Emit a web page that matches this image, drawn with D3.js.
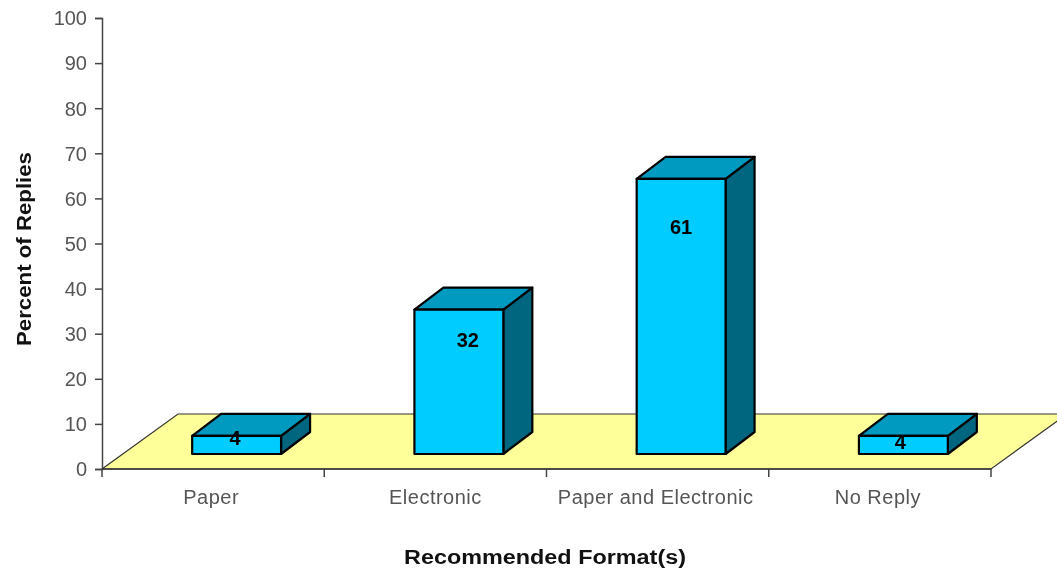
<!DOCTYPE html>
<html><head><meta charset="utf-8">
<script src="https://cdn.jsdelivr.net/npm/d3@7"></script>
<style>
html,body{margin:0;padding:0;background:#fff;overflow:hidden}
svg{display:block;filter:blur(0.45px)}
text{font-family:"Liberation Sans",Arial,sans-serif}
</style></head><body><svg id="c" width="1057" height="572"></svg>
<script>
const categories = ["Paper","Electronic","Paper and Electronic","No Reply"];
const values = [4,32,61,4];
const yTicks = [0,10,20,30,40,50,60,70,80,90,100];
const yTitle = "Percent of Replies";
const xTitle = "Recommended Format(s)";

const svg = d3.select("#c");
const y = d3.scaleLinear().domain([0,100]).range([469,18]);
const x = d3.scaleBand().domain(categories).range([102,991]).paddingInner(0.6).paddingOuter(0.3);
const floorDx=76, floorDy=-55, barDx=29, barDy=-22, barLift=15, barShift=23.5;
const labelOffset=[[-1.5,3.5],[9,32],[0,50],[-3,8]];
const catNudge=[-2,0,-2,-2];
const axisCol="#444", textCol="#555";
const fontFam='"Liberation Sans",Arial,sans-serif';

// floor
svg.append("path").attr("d",`M102,469 L${102+floorDx},${469+floorDy} L${991+floorDx},${469+floorDy} L991,469 Z`)
  .attr("fill","#ffff99").attr("stroke","#333").attr("stroke-width",1.2);

// y axis
const gy = svg.append("g").attr("transform","translate(102,0)")
  .call(d3.axisLeft(y).tickValues(yTicks).tickSize(7).tickPadding(8));
gy.selectAll("text").attr("font-size",20).attr("fill",textCol).attr("dy","0.34em").style("font-family",fontFam);
gy.selectAll("line").attr("stroke",axisCol).attr("stroke-width",1.5);
gy.select(".domain").attr("stroke",axisCol).attr("stroke-width",1.5);

// x axis
const gx = svg.append("g").attr("transform","translate(0,469)")
  .call(d3.axisBottom(x).tickSize(0).tickPadding(21));
gx.select(".domain").remove();
gx.selectAll("text").attr("font-size",20).attr("fill",textCol).attr("dx",(d,i)=>catNudge[i]).attr("letter-spacing",0.5).style("font-family",fontFam);
const boundaries = d3.range(categories.length+1).map(i=>102+i*x.step());
svg.append("g").selectAll("line").data(boundaries).join("line")
  .attr("x1",d=>d).attr("x2",d=>d).attr("y1",469).attr("y2",477)
  .attr("stroke",axisCol).attr("stroke-width",1.5);
svg.append("line").attr("x1",102).attr("x2",991).attr("y1",469).attr("y2",469).attr("stroke","#333").attr("stroke-width",1.5);

// bars
const bars = svg.append("g").selectAll("g").data(categories).join("g");
bars.each(function(c,i){
  const g=d3.select(this), v=values[i];
  const l=x(c)+barShift, w=x.bandwidth(), b=y(0)-barLift, t=b-(y(0)-y(v)), r=l+w;
  const st={stroke:"#000","stroke-width":2.2,"stroke-linejoin":"round"};
  const face=(d,f)=>{const p=g.append("path").attr("d",d).attr("fill",f);Object.entries(st).forEach(([k,a])=>p.attr(k,a));};
  face(`M${r},${b} L${r+barDx},${b+barDy} L${r+barDx},${t+barDy} L${r},${t} Z`,"#006680");
  face(`M${l},${t} L${l+barDx},${t+barDy} L${r+barDx},${t+barDy} L${r},${t} Z`,"#0099bf");
  face(`M${l},${t} H${r} V${b} H${l} Z`,"#00ccff");
  g.append("text").attr("x",l+w/2+labelOffset[i][0]).attr("y",t+labelOffset[i][1])
    .attr("text-anchor","middle").attr("dominant-baseline","middle")
    .attr("font-size",20).attr("font-weight","bold").attr("fill","#000").text(v);
});

// titles
svg.append("text").attr("x",545).attr("y",564).attr("text-anchor","middle")
  .attr("font-size",20).attr("font-weight","bold").attr("fill","#111")
  .attr("textLength",282).attr("lengthAdjust","spacingAndGlyphs").text(xTitle);
svg.append("text").attr("transform","translate(31,249) rotate(-90)").attr("text-anchor","middle")
  .attr("font-size",20).attr("font-weight","bold").attr("fill","#111")
  .attr("textLength",194).attr("lengthAdjust","spacingAndGlyphs").text(yTitle);
</script></body></html>
